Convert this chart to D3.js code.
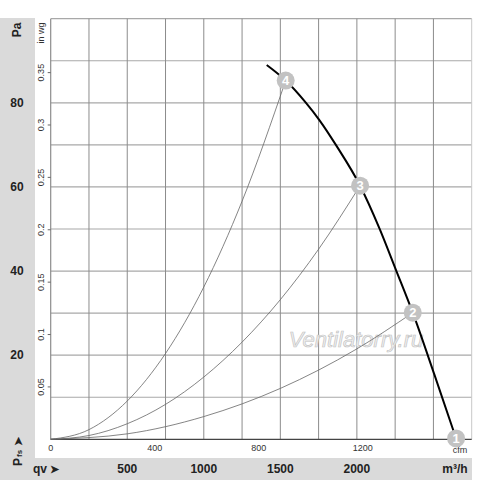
<!DOCTYPE html>
<html>
<head>
<meta charset="utf-8">
<script src="https://cdn.jsdelivr.net/npm/d3@7"></script>
<style>
  body { margin: 0; background: #fff; }
  svg { display: block; font-family: "Liberation Sans", Arial, sans-serif; }
</style>
</head>
<body>
<div id="chart"></div>
<script>
// values (flow in m3/h, static pressure in Pa)
const fanFlow = [1411, 1535, 1665, 1755, 1868, 2021, 2148, 2255, 2365, 2507, 2648];
const fanPress = [89.0, 85.3, 80.1, 75.9, 69.7, 60.3, 50.1, 40.3, 30.1, 15.3, 0.2];

const sys4Flow = [0, 250, 500, 750, 1000, 1250, 1535];
const sys4Press = [0, 2.3, 9.1, 20.4, 36.2, 56.6, 85.3];
const sys3Flow = [0, 250, 500, 750, 1000, 1250, 1500, 1750, 2021];
const sys3Press = [0, 0.9, 3.7, 8.3, 14.8, 23.1, 33.2, 45.2, 60.3];
const sys2Flow = [0, 500, 1000, 1500, 2000, 2365];
const sys2Press = [0, 1.3, 5.4, 12.1, 21.5, 30.1];

const pointIds = ["1", "2", "3", "4"];
const pointFlow = [2648, 2365, 2021, 1535];
const pointPress = [0.2, 30.1, 60.3, 85.3];

const paTicks = [20, 40, 60, 80];
const inwgTicks = [0.05, 0.1, 0.15, 0.2, 0.25, 0.3, 0.35];
const m3hTicks = [500, 1000, 1500, 2000];
const cfmTicks = [0, 400, 800, 1200];

const W = 500, H = 480;
const x0 = 50.7, x1 = 471.7, y0 = 439.3, y1 = 18.7;

const svg = d3.select("#chart").append("svg")
  .attr("width", W).attr("height", H);

// grey frame (left band + bottom band)
svg.append("rect").attr("x", 0).attr("y", 18).attr("width", 472).attr("height", H - 18).attr("fill", "#dadada");
svg.append("rect").attr("x", 35).attr("y", 18).attr("width", 437).attr("height", 440).attr("fill", "#fff");

const x = d3.scaleLinear([0, 2750], [x0, x1]);
const y = d3.scaleLinear([0, 100], [y0, y1]);
const xCfm = d3.scaleLinear([0, 2750 / 1.699], [x0, x1]);
const yInwg = d3.scaleLinear([0, 100 / 249.089], [y0, y1]);

// grid
svg.append("g").selectAll("line").data(d3.range(10, 101, 10)).join("line")
  .attr("x1", x0).attr("x2", x1)
  .attr("y1", (d) => y(d)).attr("y2", (d) => y(d))
  .attr("stroke", "#a8a8a8").attr("stroke-width", 1.2);
svg.append("g").selectAll("line").data(d3.range(250, 2751, 250)).join("line")
  .attr("x1", (d) => x(d)).attr("x2", (d) => x(d))
  .attr("y1", y0).attr("y2", y1)
  .attr("stroke", (d) => (d === 2750 ? "#c8c8c8" : "#8c8c8c")).attr("stroke-width", 1);
svg.append("line").attr("x1", x0).attr("x2", x0).attr("y1", y0).attr("y2", y1)
  .attr("stroke", "#8c8c8c").attr("stroke-width", 1.2);
svg.append("line").attr("x1", x0).attr("x2", x1).attr("y1", y0).attr("y2", y0)
  .attr("stroke", "#444").attr("stroke-width", 1.2);

// in wg axis
const inwg = svg.append("g").style("font-size", "9px").attr("fill", "#333");
inwg.selectAll("line").data(inwgTicks).join("line")
  .attr("x1", x0 - 3).attr("x2", x0)
  .attr("y1", (d) => yInwg(d)).attr("y2", (d) => yInwg(d))
  .attr("stroke", "#666");
inwg.selectAll("text").data(inwgTicks).join("text")
  .attr("transform", (d) => `translate(44,${yInwg(d)}) rotate(-90)`)
  .attr("text-anchor", "middle")
  .text((d) => String(d));
inwg.append("text")
  .attr("transform", "translate(44,33) rotate(-90)")
  .attr("text-anchor", "middle")
  .text("in wg");

// cfm axis
const cfm = svg.append("g").style("font-size", "9px").attr("fill", "#333");
cfm.selectAll("text").data(cfmTicks).join("text")
  .attr("x", (d) => xCfm(d)).attr("y", 451)
  .attr("text-anchor", "middle")
  .text((d) => d);
cfm.append("text").attr("x", 460).attr("y", 453).attr("text-anchor", "middle").text("cfm");

// Pa labels in the left band
const pa = svg.append("g").style("font-size", "12px").style("font-weight", "bold").attr("fill", "#222");
pa.selectAll("text").data(paTicks).join("text")
  .attr("x", 17).attr("y", (d) => y(d) + 4)
  .attr("text-anchor", "middle")
  .text((d) => d);
pa.append("text").attr("transform", "translate(21,30) rotate(-90)")
  .attr("text-anchor", "middle").text("Pa");
pa.append("text").attr("transform", "translate(22,466) rotate(-90)")
  .attr("text-anchor", "start")
  .text("P")
  .append("tspan").style("font-size", "8px").attr("dx", 1).text("fs")
  .append("tspan").style("font-size", "11px").attr("dx", 4).text("➤");

// m3/h labels in the bottom band
const qv = svg.append("g").style("font-size", "12px").style("font-weight", "bold").attr("fill", "#222");
qv.selectAll("text").data(m3hTicks).join("text")
  .attr("x", (d) => x(d)).attr("y", 473)
  .attr("text-anchor", "middle")
  .text((d) => d);
qv.append("text").attr("x", 33).attr("y", 473).text("qv");
qv.append("text").attr("x", 50).attr("y", 473).style("font-size", "11px").text("➤");
qv.append("text").attr("x", 455).attr("y", 473).attr("text-anchor", "middle").text("m³/h");

// watermark
svg.append("text")
  .attr("x", 356).attr("y", 347)
  .attr("text-anchor", "middle")
  .style("font-size", "22px").style("font-style", "italic")
  .attr("fill", "#f2f2f2").attr("stroke", "#c4c4c4").attr("stroke-width", 0.7)
  .text("Ventilatorry.ru");

const line = d3.line().x((d) => x(d[0])).y((d) => y(d[1])).curve(d3.curveMonotoneX);

// system curves
[[sys4Flow, sys4Press], [sys3Flow, sys3Press], [sys2Flow, sys2Press]].forEach(([f, p]) => {
  svg.append("path")
    .attr("d", line(f.map((v, i) => [v, p[i]])))
    .attr("fill", "none").attr("stroke", "#666").attr("stroke-width", 0.8);
});

// fan curve
svg.append("path")
  .attr("d", line(fanFlow.map((v, i) => [v, fanPress[i]])))
  .attr("fill", "none").attr("stroke", "#000").attr("stroke-width", 2);

// operating points
const pts = svg.append("g").selectAll("g").data(pointIds).join("g")
  .attr("transform", (d, i) => `translate(${x(pointFlow[i])},${y(pointPress[i])})`);
pts.append("circle").attr("r", 9).attr("fill", "#c2c2c2");
pts.append("text").attr("y", 4.5).attr("text-anchor", "middle")
  .style("font-size", "13px").style("font-weight", "bold").attr("fill", "#fff")
  .text((d) => d);
</script>
</body>
</html>
